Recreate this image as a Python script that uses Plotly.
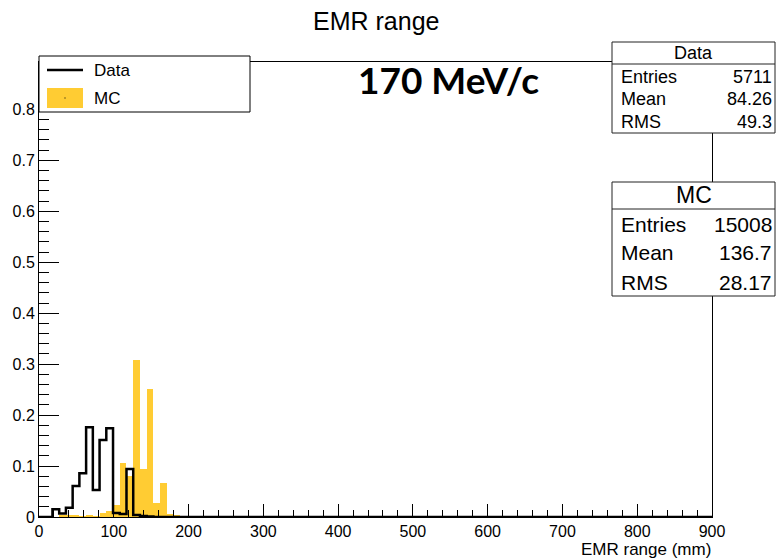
import plotly.graph_objects as go

# ---------------- data ----------------
bin_width = 9.0
n_bins = 100
bin_edges = [i * bin_width for i in range(n_bins + 1)]

# Data histogram (normalised), bins 0..16, rest zero
data_vals = [0.0, 0.0, 0.015, 0.007, 0.018, 0.061, 0.086, 0.176, 0.053, 0.151,
             0.174, 0.008, 0.006, 0.094, 0.004, 0.002, 0.001]
data_vals = data_vals + [0.0] * (n_bins - len(data_vals))

# MC histogram (normalised), bins 0..20, rest zero
mc_vals = [0.0, 0.0, 0.0, 0.002, 0.002, 0.002, 0.001, 0.003, 0.001, 0.008,
           0.012, 0.024, 0.106, 0.080, 0.308, 0.094, 0.251, 0.028, 0.067, 0.006,
           0.003]
mc_vals = mc_vals + [0.0] * (n_bins - len(mc_vals))

stat_labels = ["Entries", "Mean", "RMS"]
data_stats = ["5711", "84.26", "49.3"]
mc_stats = ["15008", "136.7", "28.17"]

x_ticks = [0, 100, 200, 300, 400, 500, 600, 700, 800, 900]
y_ticks = [0, 0.1, 0.2, 0.3, 0.4, 0.5, 0.6, 0.7, 0.8]

# ---------------- layout geometry ----------------
W, H = 776, 559
L, R, T, B = 39, 712, 62, 517
FONT = "Liberation Sans"
YELLOW = "#ffcc33"


def px(x):
    return (x - L) / (R - L)


def py(y):
    return (B - y) / (B - T)


fig = go.Figure()

centers = [(bin_edges[i] + bin_edges[i + 1]) / 2 for i in range(n_bins)]
fig.add_trace(go.Bar(x=centers, y=mc_vals, width=bin_width,
                     marker=dict(color=YELLOW, line=dict(width=0)),
                     showlegend=False, hoverinfo="skip"))

step_x = bin_edges[:-1] + [bin_edges[-1]]
step_y = data_vals + [data_vals[-1]]
fig.add_trace(go.Scatter(x=step_x, y=step_y, mode="lines",
                         line=dict(color="black", width=2.5, shape="hv"),
                         showlegend=False, hoverinfo="skip"))

shapes = []
annotations = []

# Legend box
shapes.append(dict(type="rect", xref="paper", yref="paper",
                   x0=px(39), x1=px(250), y0=py(112), y1=py(56),
                   fillcolor="white", line=dict(color="black", width=1), layer="above"))
shapes.append(dict(type="line", xref="paper", yref="paper",
                   x0=px(47), x1=px(83), y0=py(70), y1=py(70),
                   line=dict(color="black", width=2.5), layer="above"))
shapes.append(dict(type="rect", xref="paper", yref="paper",
                   x0=px(47), x1=px(83), y0=py(108), y1=py(88),
                   fillcolor=YELLOW, line=dict(width=0), layer="above"))
shapes.append(dict(type="rect", xref="paper", yref="paper",
                   x0=px(64.5), x1=px(65.5), y0=py(98.5), y1=py(97.5),
                   fillcolor="black", line=dict(width=0), layer="above"))
annotations.append(dict(text="Data", xref="paper", yref="paper", x=px(92), y=py(70),
                        xanchor="left", yanchor="middle", showarrow=False,
                        font=dict(family=FONT, size=17, color="black")))
annotations.append(dict(text="MC", xref="paper", yref="paper", x=px(92), y=py(98),
                        xanchor="left", yanchor="middle", showarrow=False,
                        font=dict(family=FONT, size=17, color="black")))


def stats_box(x0, x1, y0, ysep, y1, title, title_size, rows_y, vals, size):
    shapes.append(dict(type="rect", xref="paper", yref="paper",
                       x0=px(x0), x1=px(x1), y0=py(y1), y1=py(y0),
                       fillcolor="white", line=dict(color="#222", width=1), layer="above"))
    shapes.append(dict(type="line", xref="paper", yref="paper",
                       x0=px(x0), x1=px(x1), y0=py(ysep), y1=py(ysep),
                       line=dict(color="#222", width=1), layer="above"))
    annotations.append(dict(text=title, xref="paper", yref="paper",
                            x=px((x0 + x1) / 2), y=py((y0 + ysep) / 2),
                            xanchor="center", yanchor="middle", showarrow=False,
                            font=dict(family=FONT, size=title_size, color="black")))
    for lab, v, yy in zip(stat_labels, vals, rows_y):
        annotations.append(dict(text=lab, xref="paper", yref="paper", x=px(x0 + 7), y=py(yy),
                                xanchor="left", yanchor="middle", showarrow=False,
                                font=dict(family=FONT, size=size, color="black")))
        annotations.append(dict(text=v, xref="paper", yref="paper", x=px(x1 - 1), y=py(yy),
                                xanchor="right", yanchor="middle", showarrow=False,
                                font=dict(family=FONT, size=size, color="black")))


stats_box(612, 775, 42, 64, 133, "Data", 18, [77, 99, 122], data_stats, 18)
stats_box(612, 775, 182, 209, 296, "MC", 23, [225, 253, 282], mc_stats, 21)

# Title
annotations.append(dict(text="EMR range", xref="paper", yref="paper", x=px(376), y=py(21),
                        xanchor="center", yanchor="middle", showarrow=False,
                        font=dict(family=FONT, size=25, color="black")))
# Momentum label
annotations.append(dict(text="<b>170 MeV/c</b>", xref="paper", yref="paper", x=px(449), y=py(80),
                        xanchor="center", yanchor="middle", showarrow=False,
                        font=dict(family="Lato", size=37, color="black")))
# X-axis title
annotations.append(dict(text="EMR range (mm)", xref="paper", yref="paper", x=px(713), y=py(549),
                        xanchor="right", yanchor="middle", showarrow=False,
                        font=dict(family=FONT, size=17, color="black")))

fig.update_layout(
    width=W, height=H, autosize=False,
    margin=dict(l=L, r=W - R, t=T, b=H - B, pad=0),
    paper_bgcolor="white", plot_bgcolor="white",
    bargap=0, barmode="overlay",
    shapes=shapes, annotations=annotations,
    showlegend=False,
)
fig.update_xaxes(range=[0, 900], tickvals=x_ticks, ticktext=[str(v) for v in x_ticks],
                 ticks="inside", ticklen=13, tickwidth=1, tickcolor="black",
                 minor=dict(dtick=20, ticks="inside", ticklen=7, tickcolor="black", tickwidth=1),
                 showline=True, linecolor="black", linewidth=1, mirror=True,
                 showgrid=False, zeroline=False,
                 tickfont=dict(family=FONT, size=16, color="black"))
fig.update_yaxes(range=[0, 0.893], tickvals=y_ticks, ticktext=[("%g" % v) for v in y_ticks],
                 ticks="inside", ticklen=20, tickwidth=1, tickcolor="black",
                 minor=dict(dtick=0.02, ticks="inside", ticklen=10, tickcolor="black", tickwidth=1),
                 showline=True, linecolor="black", linewidth=1, mirror=True,
                 showgrid=False, zeroline=False,
                 tickfont=dict(family=FONT, size=16, color="black"))

fig.write_html("out.html")
